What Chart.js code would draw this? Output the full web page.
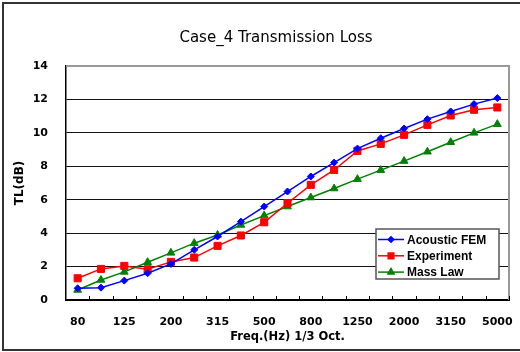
<!DOCTYPE html>
<html>
<head>
<meta charset="utf-8">
<script src="https://cdn.jsdelivr.net/npm/chart.js@4"></script>
<style>
  html, body { margin: 0; padding: 0; background: #fff; }
  #wrap { position: relative; width: 520px; height: 352px; }
</style>
</head>
<body>
<div id="wrap"><canvas id="tlChart" width="520" height="352"></canvas></div>
<script>
const chartTitle = 'Case_4 Transmission Loss';
const freqLabels = ['80', '100', '125', '160', '200', '250', '315', '400', '500', '630', '800', '1000', '1250', '1600', '2000', '2500', '3150', '4000', '5000'];
const acousticFem = [0.70, 0.74, 1.16, 1.60, 2.16, 3.00, 3.80, 4.69, 5.59, 6.49, 7.39, 8.22, 9.06, 9.68, 10.26, 10.82, 11.28, 11.72, 12.08];
const experiment = [1.30, 1.86, 2.04, 1.84, 2.28, 2.54, 3.24, 3.86, 4.65, 5.79, 6.89, 7.78, 8.92, 9.34, 9.88, 10.48, 11.04, 11.38, 11.52];
const massLaw = [0.60, 1.20, 1.68, 2.26, 2.82, 3.40, 3.89, 4.49, 5.05, 5.59, 6.13, 6.67, 7.23, 7.77, 8.31, 8.87, 9.44, 10.00, 10.52];

const FONT = '"DejaVu Sans", Verdana, sans-serif';
Chart.defaults.font.family = FONT;
Chart.defaults.color = '#000';

// outer frame, title, plot border on top/right, inward category ticks
const framePlugin = {
    id: 'frame',
    beforeDraw(chart) {
        const c = chart.ctx;
        c.save();
        c.strokeStyle = '#333';
        c.lineWidth = 2;
        c.strokeRect(3, 3, 540, 347);
        c.fillStyle = '#000';
        c.font = '15px ' + FONT;
        c.textAlign = 'center';
        c.textBaseline = 'middle';
        c.fillText(chartTitle, 276, 38);
        c.restore();
    },
    afterDatasetsDraw(chart) {
        const c = chart.ctx;
        const a = chart.chartArea;
        const xs = chart.scales.x;
        c.save();
        c.strokeStyle = '#999';
        c.lineWidth = 2;
        c.beginPath();
        c.moveTo(a.left, a.top);
        c.lineTo(a.right, a.top);
        c.lineTo(a.right, a.bottom);
        c.stroke();
        c.strokeStyle = '#000';
        c.lineWidth = 1;
        const n = xs.ticks.length;
        const step = (a.right - a.left) / n;
        c.beginPath();
        for (let i = 1; i <= n; i++) {
            const x = Math.round(a.left + i * step) + 0.5;
            c.moveTo(x, a.bottom);
            c.lineTo(x, a.bottom - 4);
        }
        c.stroke();
        c.restore();
    }
};

// legend box inside the plot, bottom right
const boxLegend = {
    id: 'boxLegend',
    afterDraw(chart) {
        const c = chart.ctx;
        const a = chart.chartArea;
        const w = 123, h = 50;
        const x0 = a.right - w - 10, y0 = a.bottom - h - 21;
        c.save();
        c.fillStyle = '#fff';
        c.fillRect(x0, y0, w, h);
        c.strokeStyle = '#555';
        c.lineWidth = 1.5;
        c.strokeRect(x0, y0, w, h);
        c.font = 'bold 12px "Liberation Sans", Arial, sans-serif';
        c.textBaseline = 'middle';
        chart.data.datasets.forEach((ds, i) => {
            const y = y0 + 10.5 + i * 16.3;
            c.strokeStyle = ds.borderColor;
            c.fillStyle = ds.backgroundColor;
            c.lineWidth = 1.5;
            c.beginPath();
            c.moveTo(x0 + 2, y);
            c.lineTo(x0 + 28, y);
            c.stroke();
            Chart.helpers.drawPoint(c, {
                pointStyle: ds.pointStyle,
                radius: ds.pointRadius * 0.8,
                borderWidth: 1
            }, x0 + 15, y);
            c.fillStyle = '#000';
            c.fillText(ds.label, x0 + 31, y + 1);
        });
        c.restore();
    }
};

function series(label, data, color, style, r) {
    return {
        label: label,
        data: data,
        borderColor: color,
        backgroundColor: color,
        borderWidth: 1.5,
        pointStyle: style,
        pointRadius: r,
        pointHoverRadius: r,
        pointBorderWidth: 1,
        tension: 0
    };
}

new Chart(document.getElementById('tlChart').getContext('2d'), {
    type: 'line',
    data: {
        labels: freqLabels,
        datasets: [
            series('Acoustic FEM', acousticFem, '#0000ff', 'rectRot', 3.5),
            series('Experiment', experiment, '#ff0000', 'rect', 5),
            series('Mass Law', massLaw, '#008000', 'triangle', 4.5)
        ]
    },
    options: {
        responsive: false,
        animation: false,
        layout: {
            padding: { left: 0, right: 11, top: 66, bottom: 0 }
        },
        scales: {
            x: {
                offset: true,
                border: { color: '#000', width: 2 },
                grid: { display: false, drawTicks: false },
                ticks: {
                    autoSkip: false,
                    maxRotation: 0,
                    padding: 16,
                    font: { size: 11, weight: 'bold' },
                    callback: function (v, i) {
                        return i % 2 === 0 ? this.getLabelForValue(v) : '';
                    }
                },
                title: {
                    display: true,
                    text: 'Freq.(Hz) 1/3 Oct.',
                    font: { size: 11.5, weight: 'bold' },
                    padding: { top: 0, bottom: 8 }
                },
                afterFit(scale) {
                    scale.height = 52;
                    scale.paddingLeft = 0;
                    scale.paddingRight = 0;
                }
            },
            y: {
                min: 0,
                max: 14,
                border: { color: '#000', width: 1.5 },
                grid: {
                    drawTicks: false,
                    color: (ctx) => ctx.tick.value === 14 ? 'rgba(0,0,0,0)' : '#111',
                    lineWidth: 1
                },
                ticks: {
                    stepSize: 2,
                    padding: 18,
                    font: { size: 11, weight: 'bold' }
                },
                title: {
                    display: true,
                    text: 'TL(dB)',
                    font: { size: 12, weight: 'bold' },
                    padding: { top: 13, bottom: 0 }
                },
                afterFit(scale) {
                    scale.width = 66;
                    scale.paddingTop = 0;
                    scale.paddingBottom = 0;
                }
            }
        },
        plugins: {
            legend: { display: false },
            tooltip: { enabled: false },
            title: { display: false }
        }
    },
    plugins: [framePlugin, boxLegend]
});
</script>
</body>
</html>
